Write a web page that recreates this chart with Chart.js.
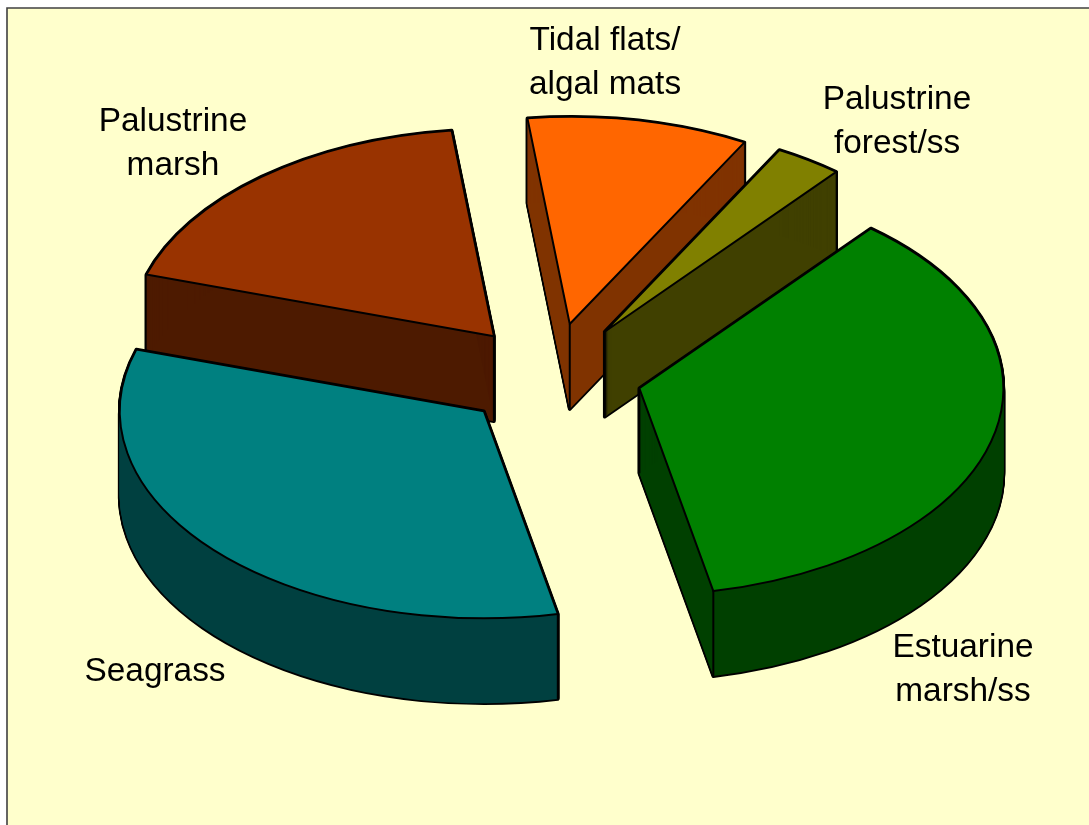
<!DOCTYPE html>
<html>
<head>
<meta charset="utf-8">
<style>html,body{margin:0;padding:0;background:#fff}canvas{display:block}</style>
<script src="https://cdn.jsdelivr.net/npm/chart.js@4"></script>
</head>
<body>
<canvas id="c" width="1089" height="825"></canvas>
<script>
const categories = ["Estuarine marsh/ss", "Seagrass", "Palustrine marsh", "Tidal flats/ algal mats", "Palustrine forest/ss"];
const shares = [35.7, 33.0, 18.3, 9.8, 3.0];
const topColors = ["#008000", "#008080", "#993300", "#FF6600", "#808000"];
const wallColors = ["#004000", "#004040", "#4D1A00", "#803300", "#404000"];
const labelLines = [["Estuarine", "marsh/ss"], ["Seagrass"], ["Palustrine", "marsh"], ["Tidal flats/", "algal mats"], ["Palustrine", "forest/ss"]];
const labelCentreX = [963, 155, 173, 605, 897];
const labelBaselineY = [657, 681, 131, 50, 109];
const sliceExplode = [90, 92, 91, 93, 94];

const view = {cx: 552, cy: 376, radius: 364, squash: 0.569, depth: 85, startDeg: 39.5};
const wallOrder = [2, 3, 4, 1, 0];

function centre(arc, i, lift) {
  const mid = (arc.startAngle + arc.endAngle) / 2;
  return {
    x: view.cx + Math.cos(mid) * sliceExplode[i],
    y: view.cy + Math.sin(mid) * sliceExplode[i] * view.squash + lift
  };
}
function slicePath(ctx, arc, i, lift) {
  const c = centre(arc, i, lift);
  ctx.beginPath();
  ctx.moveTo(c.x, c.y);
  ctx.ellipse(c.x, c.y, view.radius, view.radius * view.squash, 0, arc.startAngle, arc.endAngle);
  ctx.closePath();
}
function corner(arc, i, angle) {
  const c = centre(arc, i, 0);
  return {x: c.x + Math.cos(angle) * view.radius, y: c.y + Math.sin(angle) * view.radius * view.squash};
}

const pie3d = {
  id: "pie3d",
  beforeDraw(chart) {
    const ctx = chart.ctx;
    ctx.save();
    ctx.fillStyle = "#FFFFCC";
    ctx.fillRect(7, 8, chart.width - 7, chart.height - 8);
    ctx.strokeStyle = "#404040";
    ctx.lineWidth = 1.6;
    ctx.beginPath();
    ctx.moveTo(7, chart.height);
    ctx.lineTo(7, 8);
    ctx.lineTo(chart.width, 8);
    ctx.stroke();
    ctx.restore();
  },
  beforeDatasetDraw(chart) {
    const ctx = chart.ctx;
    const arcs = chart.getDatasetMeta(0).data;
    ctx.save();
    ctx.lineJoin = "round";
    wallOrder.forEach(i => {
      const arc = arcs[i];
      ctx.strokeStyle = "#000";
      ctx.lineWidth = 3.6;
      for (let d = 0; d <= view.depth; d += 1) { slicePath(ctx, arc, i, d); ctx.stroke(); }
      ctx.fillStyle = wallColors[i];
      for (let d = 0; d <= view.depth; d += 1) { slicePath(ctx, arc, i, d); ctx.fill(); }
      ctx.lineWidth = 2;
      const edges = [centre(arc, i, 0)];
      [arc.startAngle, arc.endAngle].forEach(a => {
        if (Math.sin(a) > 0) edges.push(corner(arc, i, a));
      });
      edges.forEach(p => {
        ctx.beginPath();
        ctx.moveTo(p.x, p.y);
        ctx.lineTo(p.x, p.y + view.depth);
        ctx.stroke();
      });
    });
    arcs.forEach((arc, i) => {
      const c = centre(arc, i, 0);
      ctx.save();
      ctx.translate(c.x, c.y);
      ctx.scale(1, view.squash);
      ctx.translate(-arc.x, -arc.y);
      arc.draw(ctx);
      ctx.restore();
    });
    ctx.strokeStyle = "#000";
    ctx.lineWidth = 2;
    arcs.forEach((arc, i) => { slicePath(ctx, arc, i, 0); ctx.stroke(); });
    ctx.restore();
    return false;
  },
  afterDraw(chart) {
    const ctx = chart.ctx;
    ctx.save();
    ctx.fillStyle = "#000";
    ctx.font = '33.4px "Liberation Sans", Arial, sans-serif';
    ctx.textAlign = "center";
    ctx.textBaseline = "alphabetic";
    labelLines.forEach((lines, i) => {
      lines.forEach((t, k) => ctx.fillText(t, labelCentreX[i], labelBaselineY[i] + k * 44));
    });
    ctx.restore();
  }
};

new Chart(document.getElementById("c"), {
  type: "pie",
  data: {
    labels: categories,
    datasets: [{
      data: shares,
      backgroundColor: topColors,
      borderWidth: 0
    }]
  },
  options: {
    responsive: false,
    animation: false,
    radius: view.radius,
    rotation: view.startDeg,
    layout: {padding: 0},
    events: [],
    plugins: {legend: {display: false}, tooltip: {enabled: false}, title: {display: false}}
  },
  plugins: [pie3d]
});
</script>
</body>
</html>
